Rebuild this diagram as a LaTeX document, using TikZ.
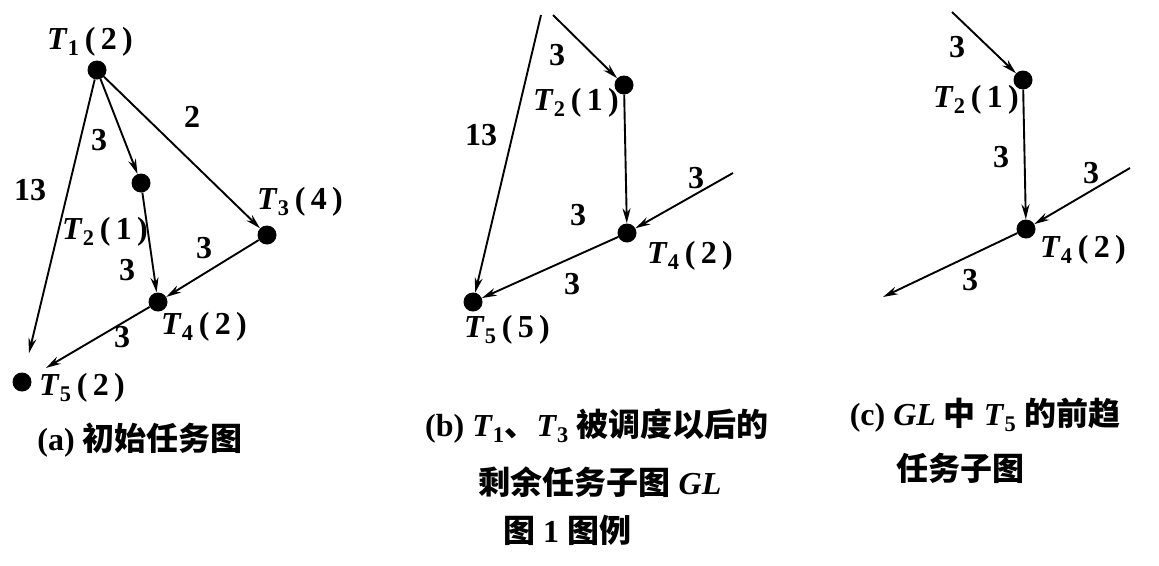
\documentclass[tikz,border=0pt]{standalone}
\usepackage{fontspec}
\setmainfont{Liberation Serif}
\newfontfamily\cjk{Noto Sans CJK SC}
\usetikzlibrary{arrows.meta}
\newcommand\task[2]{\textit{T}\textsubscript{#1}\,(\,#2\,)}
\newcommand\zh[1]{{\cjk\bfseries\fontsize{32}{36}\selectfont #1}}

\begin{document}
\begin{tikzpicture}[x=1pt,y=-1pt,
  dot/.style={circle,fill,inner sep=0pt,minimum size=19pt},
  edge/.style={line width=1.9pt,-{Stealth[length=15pt,width=8pt]}},
  every node/.append style={font=\fontsize{32}{36}\selectfont\bfseries}]
\useasboundingbox (0,0) rectangle (1159,565);

\node[dot] (a1) at (97,70) {};
\node[dot] (a2) at (141,183) {};
\node[dot] (a3) at (267,235) {};
\node[dot] (a4) at (158,302) {};
\node[dot] (a5) at (22,382) {};
\node (la1) at (90,42) {\task{1}{2}};
\node (la2) at (105,232) {\task{2}{1}};
\node (la3) at (300,202) {\task{3}{4}};
\node (la4) at (204,327) {\task{4}{2}};
\node (la5) at (82,388) {\task{5}{2}};
\draw[edge,shorten >=20pt] (a1) -- (a5);
\draw[edge] (a1) -- (a2);
\draw[edge] (a1) -- (a3);
\draw[edge] (a2) -- (a4);
\draw[edge] (a3) -- (a4);
\draw[edge,shorten >=18pt] (a4) -- (a5);
\node (wa15) at (30,190) {13};
\node (wa12) at (99,140) {3};
\node (wa13) at (192,117) {2};
\node (wa24) at (127,270) {3};
\node (wa34) at (204,248) {3};
\node (wa45) at (122,337) {3};
\node (capa) at (140,440) {(a) \zh{初始任务图}};

\coordinate (b1) at (541,15);
\coordinate (b3) at (553,15);
\coordinate (b0) at (733,173);
\node[dot] (b2) at (624,85) {};
\node[dot] (b4) at (627,233) {};
\node[dot] (b5) at (473,302) {};
\node (lb2) at (576,103) {\task{2}{1}};
\node (lb4) at (690,256) {\task{4}{2}};
\node (lb5) at (507,330) {\task{5}{5}};
\draw[edge] (b1) -- (b5);
\draw[edge] (b3) -- (b2);
\draw[edge] (b2) -- (b4);
\draw[edge] (b0) -- (b4);
\draw[edge] (b4) -- (b5);
\node (wb15) at (481,135) {13};
\node (wb12) at (557,55) {3};
\node (wb04) at (696,178) {3};
\node (wb24) at (578,215) {3};
\node (wb45) at (572,284) {3};
\node (capb1) at (597,426) {(b) \textit{T}\textsubscript{1}\zh{、}\textit{T}\textsubscript{3} \zh{被调度以后的}};
\node (capb2) at (600,482) {\zh{剩余任务子图} \textit{GL}};
\node (capb3) at (567,530) {\zh{图} 1 \zh{图例}};

\coordinate (c1) at (952,12);
\coordinate (c0) at (1130,168);
\coordinate (c5) at (883,297);
\node[dot] (c2) at (1023,80) {};
\node[dot] (c4) at (1026,229) {};
\node (lc2) at (976,100) {\task{2}{1}};
\node (lc4) at (1083,250) {\task{4}{2}};
\draw[edge] (c1) -- (c2);
\draw[edge] (c2) -- (c4);
\draw[edge] (c0) -- (c4);
\draw[edge] (c4) -- (c5);
\node (wc12) at (957,47) {3};
\node (wc24) at (1001,157) {3};
\node (wc04) at (1091,173) {3};
\node (wc45) at (970,280) {3};
\node (capc1) at (985,415) {(c) \textit{GL} \zh{中} \textit{T}\textsubscript{5} \zh{的前趋}};
\node (capc2) at (960,468) {\zh{任务子图}};
\end{tikzpicture}
\end{document}
